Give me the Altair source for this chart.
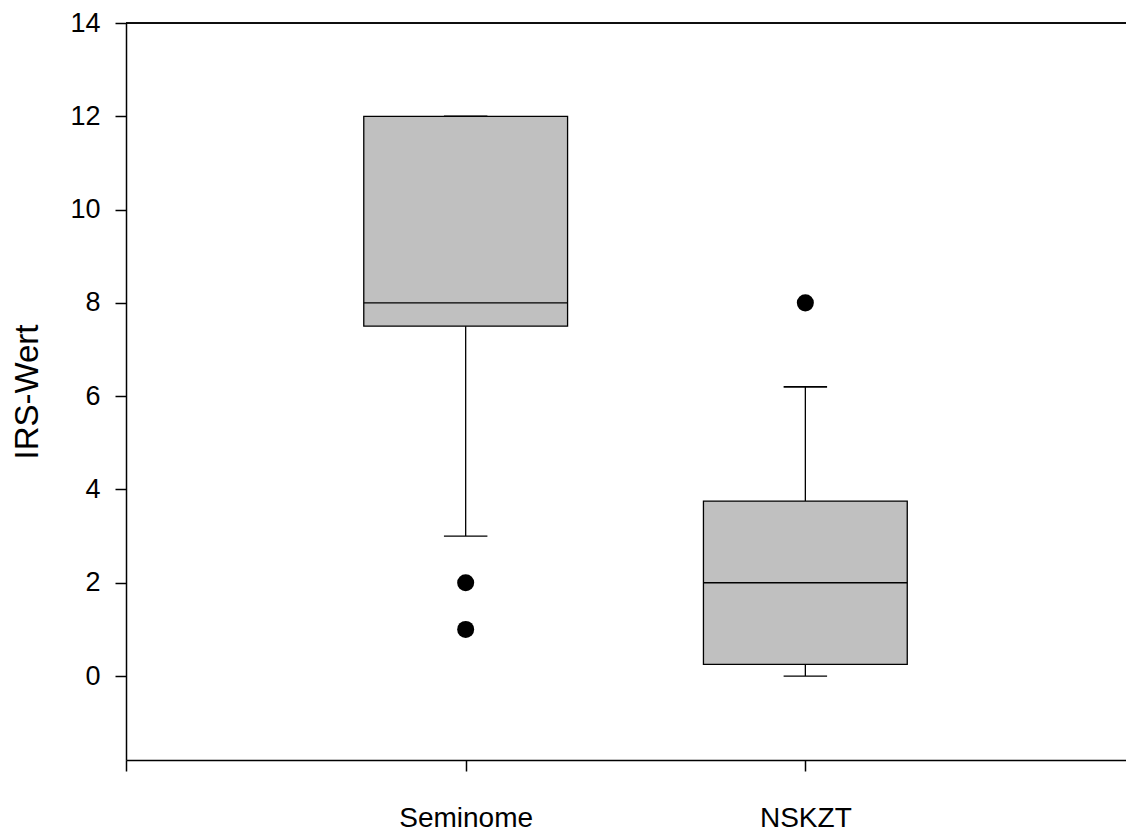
import altair as alt
import pandas as pd

# ---- data ----
categories = ["Seminome", "NSKZT"]
positions = [1, 2]
q1 = [7.5, 0.25]
median = [8.0, 2.0]
q3 = [12.0, 3.75]
whisker_low = [3.0, 0.0]
whisker_high = [12.0, 6.2]
outlier_group = ["Seminome", "Seminome", "NSKZT"]
outlier_values = [2.0, 1.0, 8.0]
y_ticks = [0, 2, 4, 6, 8, 10, 12, 14]

BOX_HALF = 0.30
CAP_HALF = 0.064
X_MAX = 2.944
Y_MIN, Y_MAX = -1.8, 14

pos_of = dict(zip(categories, positions))
boxes = pd.DataFrame({
    "cat": categories,
    "pos": positions,
    "x0": [p - BOX_HALF for p in positions],
    "x1": [p + BOX_HALF for p in positions],
    "c0": [p - CAP_HALF for p in positions],
    "c1": [p + CAP_HALF for p in positions],
    "q1": q1, "median": median, "q3": q3,
    "lo": whisker_low, "hi": whisker_high,
})
outliers = pd.DataFrame({
    "cat": outlier_group,
    "pos": [pos_of[c] for c in outlier_group],
    "value": outlier_values,
})

FONT = "Liberation Sans"

xscale = alt.Scale(domain=[0, X_MAX], nice=False, zero=False)
yscale = alt.Scale(domain=[Y_MIN, Y_MAX], nice=False, zero=False)

xaxis = alt.Axis(
    values=[0, 1, 2],
    labelExpr="datum.value == 1 ? 'Seminome' : (datum.value == 2 ? 'NSKZT' : '')",
    tickSize=11, tickColor="black", tickWidth=1.5,
    domainColor="black", domainWidth=1.5,
    labelFont=FONT, labelFontSize=28, labelColor="black",
    labelPadding=33, grid=False, title=None, labelFlush=False,
)
yaxis = alt.Axis(
    values=y_ticks, format="d",
    tickSize=11, tickColor="black", tickWidth=1.5,
    domainColor="black", domainWidth=1.5,
    labelFont=FONT, labelFontSize=27, labelColor="black",
    labelPadding=15, grid=False,
    title="IRS-Wert", titleFont=FONT, titleFontSize=33,
    titleFontWeight="normal", titleColor="black", titlePadding=25,
)

base = alt.Chart(boxes)

box = base.mark_rect(fill="#C0C0C0", stroke="black", strokeWidth=1.3).encode(
    x=alt.X("x0:Q", scale=xscale, axis=xaxis),
    x2="x1:Q",
    y=alt.Y("q1:Q", scale=yscale, axis=yaxis),
    y2="q3:Q",
)
med = base.mark_rule(color="black", strokeWidth=1.3).encode(
    x="x0:Q", x2="x1:Q", y="median:Q"
)
wh_up = base.mark_rule(color="black", strokeWidth=1.3).encode(
    x="pos:Q", y="q3:Q", y2="hi:Q"
)
wh_lo = base.mark_rule(color="black", strokeWidth=1.3).encode(
    x="pos:Q", y="lo:Q", y2="q1:Q"
)
cap_up = base.mark_rule(color="black", strokeWidth=1.6).encode(
    x="c0:Q", x2="c1:Q", y="hi:Q"
)
cap_lo = base.mark_rule(color="black", strokeWidth=1.3).encode(
    x="c0:Q", x2="c1:Q", y="lo:Q"
)
pts = alt.Chart(outliers).mark_circle(color="black", opacity=1, size=290).encode(
    x="pos:Q", y="value:Q"
)
top_line = base.mark_rule(color="black", strokeWidth=1.5).encode(
    x=alt.datum(0), x2=alt.datum(X_MAX), y=alt.datum(Y_MAX)
)

chart = alt.layer(box, wh_up, wh_lo, cap_up, cap_lo, med, pts, top_line).properties(
    width=1000,
    height=737,
    autosize=alt.AutoSizeParams(type="none"),
    padding={"left": 118, "top": 15, "right": 0, "bottom": 72},
).configure_view(stroke=None).configure(background="white")

chart.save("out.html", embed_options={"renderer": "svg", "actions": False})
